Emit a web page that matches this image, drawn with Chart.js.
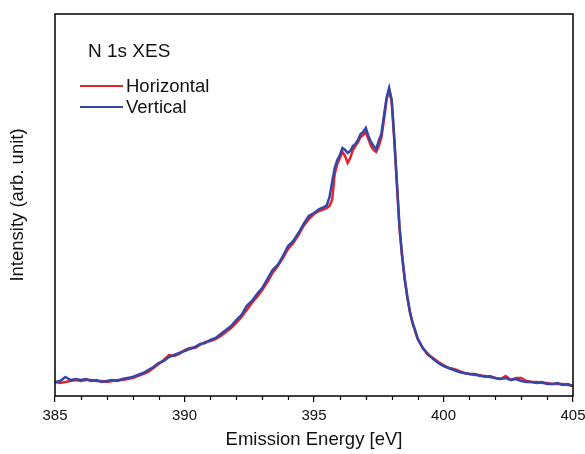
<!DOCTYPE html>
<html>
<head>
<meta charset="utf-8">
<script src="https://cdn.jsdelivr.net/npm/chart.js@4.4.1/dist/chart.umd.min.js"></script>
<style>
  html, body { margin: 0; padding: 0; background: #fff; }
  #wrap { width: 585px; height: 454px; }
</style>
</head>
<body>
<div id="wrap"><canvas id="xes-chart"></canvas></div>
<script>
// N 1s XES spectra

var energies = [
  385.0, 385.2, 385.4, 385.6, 385.8, 386.0, 386.2, 386.4, 386.6, 386.8,
  387.0, 387.2, 387.4, 387.6, 387.8, 388.0, 388.2, 388.4, 388.6, 388.8,
  389.0, 389.2, 389.4, 389.6, 389.8, 390.0, 390.2, 390.4, 390.6, 390.8,
  391.0, 391.2, 391.4, 391.6, 391.8, 392.0, 392.2, 392.4, 392.6, 392.8,
  393.0, 393.2, 393.4, 393.6, 393.8, 394.0, 394.2, 394.4, 394.6, 394.8,
  395.0, 395.2, 395.4, 395.5, 395.6, 395.7, 395.8, 395.9, 396.0, 396.1,
  396.2, 396.3, 396.4, 396.5, 396.6, 396.7, 396.8, 396.9, 397.0, 397.1,
  397.2, 397.3, 397.4, 397.5, 397.6, 397.7, 397.8, 397.9, 398.0, 398.1,
  398.2, 398.3, 398.4, 398.5, 398.6, 398.7, 398.8, 399.0, 399.2, 399.4,
  399.6, 399.8, 400.0, 400.2, 400.4, 400.6, 400.8, 401.0, 401.2, 401.4,
  401.6, 401.8, 402.0, 402.2, 402.4, 402.6, 402.8, 403.0, 403.2, 403.4,
  403.6, 403.8, 404.0, 404.2, 404.4, 404.6, 404.8, 405.0
];

var vertical = [
  14, 15, 19, 16, 17, 16, 17, 15, 16, 14,
  15, 16, 15, 17, 18, 19, 21, 23, 26, 29,
  33, 35, 39, 41, 43, 45, 47, 49, 52, 53,
  56, 58, 62, 66, 70, 76, 81, 90, 95, 102,
  108, 117, 126, 131, 140, 150, 155, 163, 172, 180,
  183, 187, 189, 191, 199, 214, 228, 236, 241, 248,
  246, 243, 245, 250, 252, 256, 262, 264, 268, 260,
  254, 250, 247, 255, 262, 280, 298, 308, 296, 258,
  214, 170, 141, 118, 100, 85, 74, 58, 48, 42,
  37, 33, 30, 28, 26, 24, 23, 22, 22, 20,
  20, 19, 18, 17, 18, 16, 17, 15, 14, 14,
  13, 14, 12, 12, 13, 11, 12, 10
];

var horizontal = [
  14, 13, 14, 15, 16, 15, 16, 16, 15, 15,
  14, 15, 16, 16, 17, 18, 20, 22, 24, 28,
  32, 36, 41, 40, 42, 46, 48, 48, 51, 54,
  55, 57, 60, 64, 68, 73, 79, 86, 93, 99,
  106, 114, 123, 130, 138, 147, 153, 161, 170, 177,
  182, 185, 187, 188, 190, 196, 222, 232, 238, 244,
  240, 233, 238, 246, 250, 254, 259, 261, 264, 257,
  250, 246, 244, 250, 258, 276, 296, 306, 294, 256,
  212, 168, 140, 117, 99, 84, 73, 57, 48, 41,
  38, 34, 31, 28, 27, 25, 23, 22, 21, 21,
  19, 20, 18, 17, 20, 16, 18, 18, 15, 14,
  14, 13, 13, 12, 12, 12, 11, 10
];

var xTicks = [385, 390, 395, 400, 405];
var minorTicks = [386, 387, 388, 389, 391, 392, 393, 394, 396, 397, 398, 399, 401, 402, 403, 404];

var FONT = '"Liberation Sans", Arial, sans-serif';

function toPoints(ys) {
  return energies.map(function (e, i) { return { x: e, y: ys[i] }; });
}

// box around the plot, minor ticks and the in-plot legend
var frame = {
  id: 'frame',
  afterDraw: function (chart) {
    var ctx = chart.ctx;
    var a = chart.chartArea;
    var xs = chart.scales.x;
    ctx.save();
    ctx.strokeStyle = '#000';
    ctx.lineWidth = 1.5;
    ctx.strokeRect(a.left, a.top, a.right - a.left, a.bottom - a.top);
    ctx.lineWidth = 1.2;
    minorTicks.forEach(function (t) {
      var px = Math.round(xs.getPixelForValue(t)) + 0.5;
      ctx.beginPath();
      ctx.moveTo(px, a.bottom);
      ctx.lineTo(px, a.bottom + 4);
      ctx.stroke();
    });

    ctx.fillStyle = '#111';
    ctx.textBaseline = 'middle';
    ctx.font = '19px ' + FONT;
    ctx.fillText('N 1s XES', a.left + 33, 52);
    ctx.font = '18.5px ' + FONT;
    var rows = [chart.data.datasets[1], chart.data.datasets[0]];
    rows.forEach(function (ds, i) {
      var y = 86 + i * 21;
      ctx.strokeStyle = ds.borderColor;
      ctx.lineWidth = 2;
      ctx.beginPath();
      ctx.moveTo(a.left + 25, y);
      ctx.lineTo(a.left + 68, y);
      ctx.stroke();
      ctx.fillText(ds.label, a.left + 71, y + 1);
    });
    ctx.restore();
  }
};

new Chart(document.getElementById('xes-chart'), {
  type: 'line',
  data: {
    datasets: [{
      label: 'Vertical',
      data: toPoints(vertical),
      borderColor: '#3447a6',
      borderWidth: 2.5,
      pointRadius: 0,
      order: 0
    }, {
      label: 'Horizontal',
      data: toPoints(horizontal),
      borderColor: '#e4232b',
      borderWidth: 2.5,
      pointRadius: 0,
      order: 1
    }]
  },
  options: {
    responsive: true,
    maintainAspectRatio: false,
    animation: false,
    layout: { padding: { top: 14, right: 12, left: 0, bottom: 0 } },
    plugins: {
      legend: { display: false },
      tooltip: { enabled: false }
    },
    scales: {
      x: {
        type: 'linear',
        min: 385,
        max: 405,
        afterBuildTicks: function (scale) {
          scale.ticks = xTicks.map(function (v) { return { value: v }; });
        },
        afterFit: function (scale) {
          scale.height = 58;
          scale.paddingLeft = 0;
          scale.paddingRight = 0;
        },
        grid: { display: true, drawOnChartArea: false, tickLength: 6, color: '#000', lineWidth: 1.2 },
        border: { display: false },
        ticks: {
          color: '#111',
          padding: 5,
          maxRotation: 0,
          font: { family: FONT, size: 15 }
        },
        title: {
          display: true,
          text: 'Emission Energy [eV]',
          color: '#111',
          padding: { top: 2, bottom: 3 },
          font: { family: FONT, size: 18.5 }
        }
      },
      y: {
        min: 0,
        max: 382,
        afterFit: function (scale) { scale.width = 55; },
        grid: { display: false },
        border: { display: false },
        ticks: { display: false },
        title: {
          display: true,
          text: 'Intensity (arb. unit)',
          color: '#111',
          padding: { top: 7, bottom: 0 },
          font: { family: FONT, size: 18.5 }
        }
      }
    }
  },
  plugins: [frame]
});
</script>
</body>
</html>
